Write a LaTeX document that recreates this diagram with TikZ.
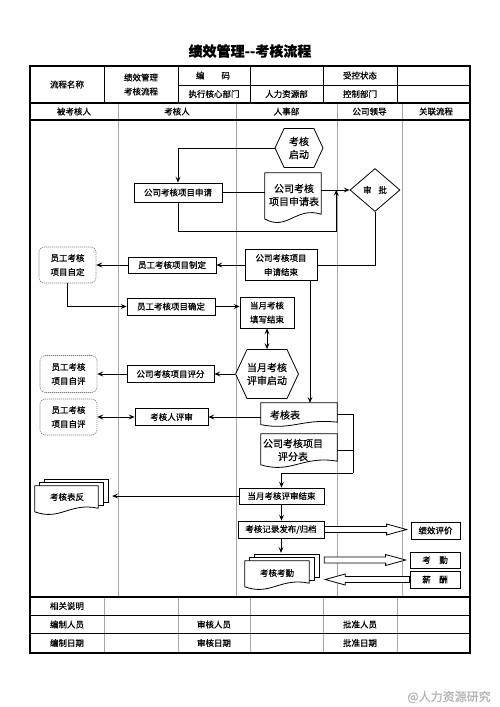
\documentclass[tikz,border=0pt]{standalone}
\usepackage{fontspec}
\setmainfont{Noto Sans CJK SC}[FakeBold=0.6]
\usetikzlibrary{shapes.symbols,shapes.geometric,arrows.meta,calc}
\newcommand\docshape[2]{%
 \draw[docline] (#1.north west) -- (#1.north east) -- ([yshift=#2]#1.south east)
  .. controls ($(#1.south east)!0.45!(#1.south west)+(0,2*#2)$) and ($(#1.south west)!0.4!(#1.south east)+(0,-1.15*#2)$) .. ([yshift=0.4*#2]#1.south west) -- cycle;}
\newcommand\multidoc[2]{%
 \draw[docline] ([xshift=10pt,yshift=6pt]#1.north west) rectangle ([xshift=10pt,yshift=12pt]#1.south east);
 \draw[docline] ([xshift=5pt,yshift=3pt]#1.north west) rectangle ([xshift=5pt,yshift=9pt]#1.south east);
 \docshape{#1}{#2}}
\newcommand\hollowarr[3]{%
 \draw[hollow] ($(#1)+(0,3pt)$) -- ($(#2)+(#3,3pt)$) -- ($(#2)+(#3,5.5pt)$) -- (#2) -- ($(#2)+(#3,-5.5pt)$) -- ($(#2)+(#3,-3pt)$) -- ($(#1)+(0,-3pt)$) -- cycle;}
\begin{document}
\begin{tikzpicture}[x=1pt,y=-1pt,
 every node/.style={font=\fontsize{8.5}{14}\selectfont, inner sep=0pt, align=center},
 box/.style={draw, line width=0.8pt, fill=white, inner sep=1pt},
 soft/.style={draw=black!50, line width=0.6pt, dash pattern=on 1.2pt off 0.8pt, rounded corners=5pt, fill=white},
 hex/.style={signal, signal to=west and east, signal pointer angle=130, draw, line width=0.8pt, fill=white, font=\fontsize{10}{13}\selectfont},
 big/.style={font=\fontsize{10}{13}\selectfont},
 conn/.style={line width=0.8pt},
 arr/.style={conn, -{Stealth[length=6pt,width=5pt,inset=2.5pt]}},
 arrs/.style={conn, {Stealth[length=6pt,width=5pt,inset=2.5pt]}-{Stealth[length=6pt,width=5pt,inset=2.5pt]}},
 docline/.style={draw, line width=0.8pt, fill=white},
 hollow/.style={draw, line width=0.8pt, fill=white},
 outer/.style={line width=1.2pt},
 tline/.style={line width=0.6pt},
 lane/.style={draw=black!35, line width=0.8pt},
]
\useasboundingbox (0,0) rectangle (500,707);
\fill[white] (0,0) rectangle (500,707);
\node[font=\fontsize{14}{16}\selectfont\bfseries] (title) at (250,51) {绩效管理-{}-考核流程};
% lanes
\foreach \x in {118,236,337,402} \draw[lane] (\x,103) -- (\x,597);
\foreach \x in {104,178,250,323,397} \draw[lane] (\x,597) -- (\x,653);
\foreach \x in {104,178,250,323,397} \draw[tline] (\x,66) -- (\x,103);
\draw[tline] (178,85) -- (470,85);
\draw[tline] (30,615.5) -- (470,615.5);
\draw[tline] (30,633.5) -- (470,633.5);
\draw[outer] (30,103) -- (470,103);
\draw[outer] (30,120) -- (470,120);
\draw[outer] (30,597) -- (470,597);
\draw[outer] (30,66) rectangle (470,653);
% header texts
\node (h1) at (67,84.5) {流程名称};
\node (h2) at (141,84.5) {绩效管理\\考核流程};
\node (h3) at (213,75.5) {编\hspace{2em}码};
\node (h4) at (214,94) {执行核心部门};
\node (h5) at (286.5,94) {人力资源部};
\node (h6) at (360,75.5) {受控状态};
\node (h7) at (360,94) {控制部门};
\node (l1) at (74,111.5) {被考核人};
\node (l2) at (177,111.5) {考核人};
\node (l3) at (286.5,111.5) {人事部};
\node (l4) at (369.5,111.5) {公司领导};
\node (l5) at (436,111.5) {关联流程};
\node (b1) at (67,606) {相关说明};
\node (b2) at (67,624.5) {编制人员};
\node (b3) at (214,624.5) {审核人员};
\node (b4) at (360,624.5) {批准人员};
\node (b5) at (67,643) {编制日期};
\node (b6) at (214,643) {审核日期};
\node (b7) at (360,643) {批准日期};
% flow nodes
\node[hex, minimum width=48, minimum height=39] (st) at (299,148) {考核\\启动};
\node[box, minimum width=88, minimum height=19] (sq) at (178,192.5) {公司考核项目申请};
\node[minimum width=56, minimum height=49] (sqb) at (293,197.5) {};
\docshape{sqb}{8pt}
\node[big] (sqbt) at (294,195) {公司考核\\项目申请表};
\node[diamond, draw, line width=0.8pt, fill=white, minimum width=50, minimum height=43, inner sep=0pt] (sp) at (375,190) {审\hspace{0.8em}批};
\node[box, minimum width=72, minimum height=31] (sj) at (281,265) {公司考核项目\\申请结束};
\node[box, minimum width=88, minimum height=16] (zd) at (172,265) {员工考核项目制定};
\node[soft, minimum width=57, minimum height=36] (zid) at (67.5,265) {员工考核\\项目自定};
\node[box, minimum width=88, minimum height=17] (qd) at (171,306.5) {员工考核项目确定};
\node[box, minimum width=54, minimum height=31] (tx) at (267,312.5) {当月考核\\填写结束};
\node[hex, minimum width=60, minimum height=49] (ps) at (267,374) {当月考核\\评审启动};
\node[box, minimum width=87, minimum height=17] (pf) at (170.5,374) {公司考核项目评分};
\node[soft, minimum width=57, minimum height=37] (zp1) at (68.5,374) {员工考核\\项目自评};
\node[soft, minimum width=57, minimum height=36] (zp2) at (68.5,417) {员工考核\\项目自评};
\node[box, minimum width=73, minimum height=17] (rs) at (171.5,417) {考核人评审};
\node[minimum width=76, minimum height=23] (khb) at (299,414.5) {};
\docshape{khb}{4pt}
\node[big] (khbt) at (285,415) {考核表};
\node[minimum width=76, minimum height=33] (pfb) at (299,450.5) {};
\docshape{pfb}{6pt}
\node[big] (pfbt) at (293,450) {公司考核项目\\评分表};
\node[box, minimum width=85, minimum height=16] (jsb) at (281.5,496) {当月考核评审结束};
\node[minimum width=63, minimum height=28] (kfb) at (66.5,500) {};
\multidoc{kfb}{6pt}
\node (kfbt) at (67,497) {考核表反};
\node[box, minimum width=86, minimum height=17] (fb) at (281,529.5) {考核记录发布/归档};
\node[box, minimum width=49, minimum height=17] (jx) at (435.5,530.5) {绩效评价};
\node[minimum width=64, minimum height=28] (kq) at (277,575) {};
\multidoc{kq}{6pt}
\node (kqt) at (277,573) {考核考勤};
\node[box, minimum width=50, minimum height=16] (kqin) at (435,560) {考\hspace{1em}勤};
\node[box, minimum width=50, minimum height=17] (xc) at (435,579.5) {薪\hspace{1em}酬};
% connectors
\draw[arr] (st.west) -| (sq.north);
\draw[conn] (sq.east) -- (sq.east -| sqb.west);
\draw[arr] (sqb.east |- sp.west) -- (sp.west);
\coordinate (j1) at ($(sqb.east |- sp.west)+(15pt,0)$);
\draw[arr] (sq.south) -- ++(0,29) -| (j1);
\draw[conn] (sp.south) |- (sj.east);
\draw[arr] (sj.west) -- (zd.east);
\draw[arr] (zd.west) -- (zid.east);
\draw[arr] (zid.south) |- (qd.west);
\draw[arr] (qd.east) -- (qd.east -| tx.west);
\draw[arrs] (tx.south) -- (ps.north);
\draw[arr] (ps.west) -- (pf.east);
\draw[arr] (pf.west) -- (zp1.east);
\draw[arrs] (zp2.east) -- (rs.west);
\draw[arr] (rs.east -| khb.west) -- (rs.east);
\coordinate (s1) at ([xshift=29pt]sj.south);
\draw[arr] (s1) -- (s1 |- khb.north);
\coordinate (mr) at ($(khb.east)+(16pt,0)$);
\coordinate (mb) at ($(pfb.south -| mr)+(0,-6pt)$);
\draw[conn] (khb.east) -- (mr) -- (mb);
\draw[conn] (pfb.east) -- (pfb.east -| mr);
\draw[arr] (mb) -| (jsb.north);
\coordinate (kfbtip) at ([xshift=14pt]kfb.east);
\draw[arr] (jsb.west) -- (jsb.west -| kfbtip);
\draw[arr] (jsb.south) -- (jsb.south |- fb.north);
\coordinate (kqtop) at ([yshift=8pt]kq.north);
\draw[arr] (fb.south) -- (fb.south |- kqtop);
% hollow arrows
\coordinate (a1s) at (fb.east);
\coordinate (a1e) at ($(fb.east -| jx.west)+(-4pt,0)$);
\hollowarr{a1s}{a1e}{-20pt}
\coordinate (a2s) at ($(kq.east |- kqin.west)+(15pt,0)$);
\coordinate (a2e) at ($(kqin.west)+(-4pt,0)$);
\hollowarr{a2s}{a2e}{-20pt}
\coordinate (a3s) at (xc.west);
\coordinate (a3e) at ($(kq.east |- xc.west)+(16pt,0)$);
\hollowarr{a3s}{a3e}{20pt}
\node[text=black!30, font=\fontsize{12}{14}\selectfont] (wm) at (449,697) {@人力资源研究};
\end{tikzpicture}
\end{document}
